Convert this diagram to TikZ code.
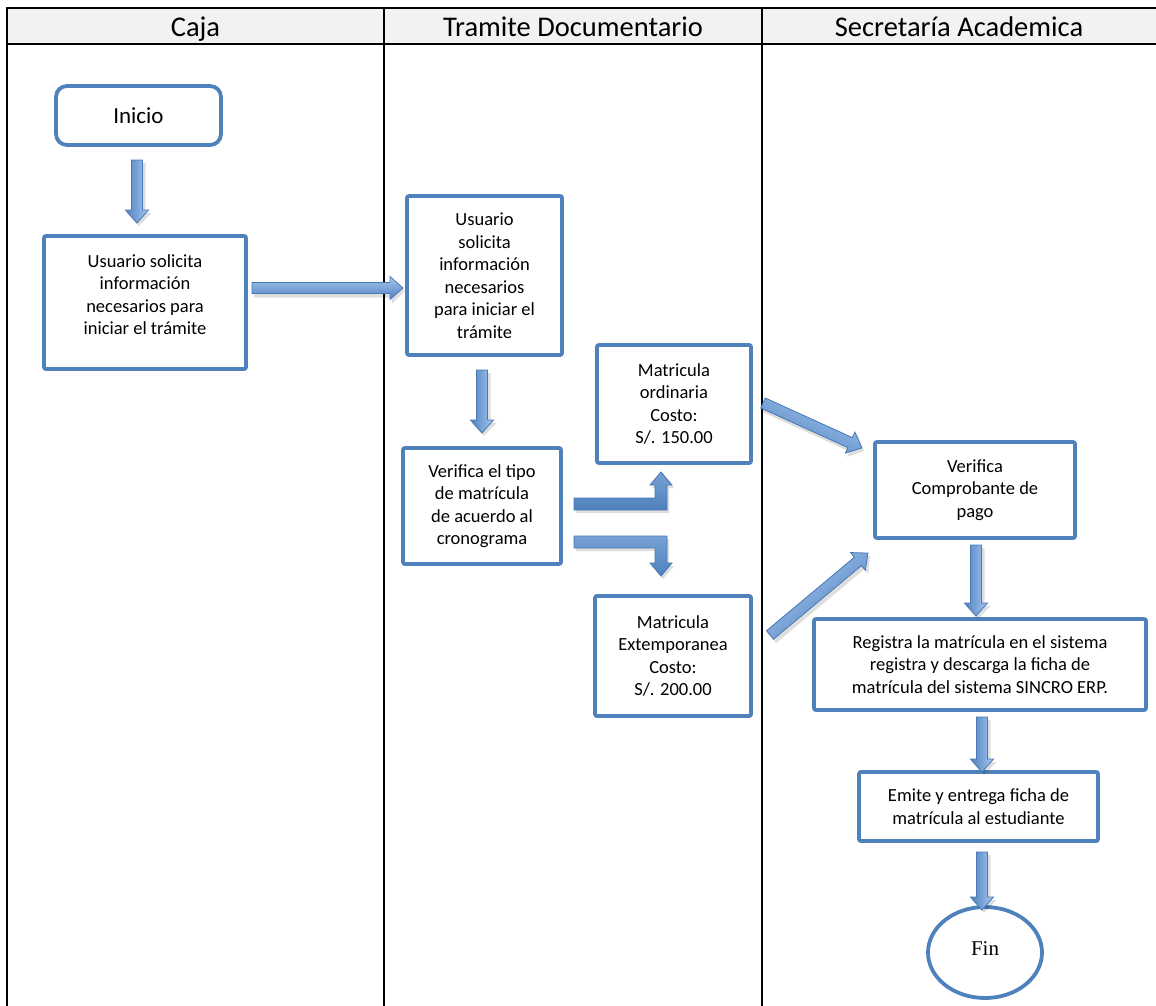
\documentclass[tikz,border=0pt]{standalone}
\usepackage{fontspec}
\setmainfont{Carlito}
\newfontfamily\finfont{Liberation Serif}
\usetikzlibrary{calc,shapes.geometric}
\definecolor{obl}{RGB}{79,129,189}
\definecolor{arrl}{RGB}{166,200,242}
\definecolor{arrd}{RGB}{74,120,180}
\definecolor{hdr}{RGB}{242,242,242}
\tikzset{
  box/.style={draw=obl, line width=3.8pt, rounded corners=2pt, align=center,
    font=\fontsize{18.5}{22.5}\selectfont, inner sep=0pt, outer sep=0pt, fill=white},
  boxtext/.style={align=center, font=\fontsize{18.5}{22.5}\selectfont, inner sep=0pt},
  lane/.style={line width=2pt, draw=black},
  hdtext/.style={font=\fontsize{28.5}{32}\selectfont, inner sep=0pt, anchor=base},
  barrow/.style={draw=arrd, line width=0.8pt, top color=arrl, bottom color=obl},
  bentarrow/.style={draw=arrd, line width=0.8pt, top color=obl!55!arrl, bottom color=obl},
  bshadow/.style={fill=black, opacity=0.13},
}
\newcommand\blockarrow[2]{%
  \pgfpointdiff{\pgfpointanchor{#1}{center}}{\pgfpointanchor{#2}{center}}%
  \pgfgetlastxy{\mydx}{\mydy}%
  \pgfmathsetmacro\myang{atan2(\mydy,\mydx)}%
  \pgfmathsetmacro\mylen{veclen(\mydx,\mydy)}%
  \begin{scope}[shift={($(#1)+(2,3)$)},rotate=\myang]
    \fill[bshadow] (0,-6.5) -- ({\mylen-13},-6.5) -- ({\mylen-13},-12.5) -- (\mylen,0)
      -- ({\mylen-13},12.5) -- ({\mylen-13},6.5) -- (0,6.5) -- cycle;
  \end{scope}
  \begin{scope}[shift={(#1)},rotate=\myang]
    \shade[barrow,shading angle=\myang] (0,-5.5) -- ({\mylen-13},-5.5) -- ({\mylen-13},-11.5) -- (\mylen,0)
      -- ({\mylen-13},11.5) -- ({\mylen-13},5.5) -- (0,5.5) -- cycle;
  \end{scope}}
\begin{document}
\begin{tikzpicture}[x=1pt,y=-1pt]
\useasboundingbox (0,0) rectangle (1156,1006);
% lanes
\fill[hdr] (7,8) rectangle (1157,44);
\draw[lane] (1157,8) -- (7,8) -- (7,1007);
\draw[lane] (7,44) -- (1157,44);
\draw[lane] (384,8) -- (384,1007);
\draw[lane] (762,8) -- (762,1007);
\node[hdtext] (h1) at (195.5,37) {Caja};
\node[hdtext] (h2) at (573,37) {Tramite Documentario};
\node[hdtext] (h3) at (959,37) {Secretaría Academica};
% nodes
\node[box, rounded corners=11pt, minimum width=165pt, minimum height=59pt,
  font=\fontsize{23}{27}\selectfont] (ini) at (138.5,115.5) {Inicio};
\node[box, minimum width=202pt, minimum height=133pt] (b1) at (145,302.5) {};
\node[boxtext] (b1t) at ($(b1)+(0,-8)$) {Usuario solicita\\información\\necesarios para\\iniciar el trámite};
\node[box, minimum width=155pt, minimum height=159pt] (b2) at (484.5,275.5)
  {Usuario\\solicita\\información\\necesarios\\para iniciar el\\trámite};
\node[box, minimum width=158pt, minimum height=116pt] (b3) at (482,506)
  {Verifica el tipo\\de matrícula\\de acuerdo al\\cronograma};
\node[box, minimum width=154pt, minimum height=118pt] (mo) at (674,404)
  {Matricula\\ordinaria\\Costo:\\S/. 150.00};
\node[box, minimum width=156pt, minimum height=120pt] (me) at (673,656)
  {Matricula\\Extemporanea\\Costo:\\S/. 200.00};
\node[box, minimum width=200pt, minimum height=96pt] (vc) at (975,490)
  {Verifica\\Comprobante de\\pago};
\node[box, minimum width=332pt, minimum height=91pt] (rg) at (980,664.5)
  {Registra la matrícula en el sistema\\registra y descarga la ficha de\\matrícula del sistema SINCRO ERP.};
\node[box, minimum width=239pt, minimum height=69pt] (em) at (978.5,806.5)
  {Emite y entrega ficha de\\matrícula al estudiante};
\node[ellipse, draw=obl, line width=3.8pt, fill=white, minimum width=114pt, minimum height=91pt,
  inner sep=0pt] (fin) at (985,952.5) {};
\node[font=\finfont\fontsize{21}{25}\selectfont, inner sep=0pt] (fint) at ($(fin)+(0,-4)$) {Fin};
% arrow end points
\coordinate (a1s) at (137,160);  \coordinate (a1e) at (137,223);
\coordinate (a2s) at (252,288);  \coordinate (a2e) at (403,288);
\coordinate (a3s) at (482,370);  \coordinate (a3e) at (482,433);
\coordinate (a4s) at (763,403);  \coordinate (a4e) at (862,448);
\coordinate (a5s) at (770,635);  \coordinate (a5e) at (868,553);
\coordinate (a6s) at (976,545);  \coordinate (a6e) at (976,616);
\coordinate (a7s) at (982,717);  \coordinate (a7e) at (982,772);
\coordinate (a8s) at (982,852);  \coordinate (a8e) at (982,910);
\blockarrow{a1s}{a1e}
\blockarrow{a2s}{a2e}
\blockarrow{a3s}{a3e}
\blockarrow{a4s}{a4e}
\blockarrow{a5s}{a5e}
\blockarrow{a6s}{a6e}
\blockarrow{a7s}{a7e}
\blockarrow{a8s}{a8e}
% bent arrows from b3
\begin{scope}[shift={($(b3.east)+(2,3)$)}]
  \fill[bshadow] (13,-8) -- (94,-8) -- (94,-21) -- (89,-21) -- (100,-34) -- (111,-21) -- (106,-21) -- (106,4) -- (13,4) -- cycle;
  \fill[bshadow] (13,30) -- (106,30) -- (106,57) -- (111,57) -- (100,70) -- (89,57) -- (94,57) -- (94,42) -- (13,42) -- cycle;
\end{scope}
\begin{scope}[shift={(b3.east)}]
  \shade[bentarrow] (13,-8) -- (94,-8) -- (94,-21) -- (89,-21) -- (100,-34) -- (111,-21) -- (106,-21) -- (106,4) -- (13,4) -- cycle;
  \shade[bentarrow] (13,30) -- (106,30) -- (106,57) -- (111,57) -- (100,70) -- (89,57) -- (94,57) -- (94,42) -- (13,42) -- cycle;
\end{scope}
\end{tikzpicture}
\end{document}
